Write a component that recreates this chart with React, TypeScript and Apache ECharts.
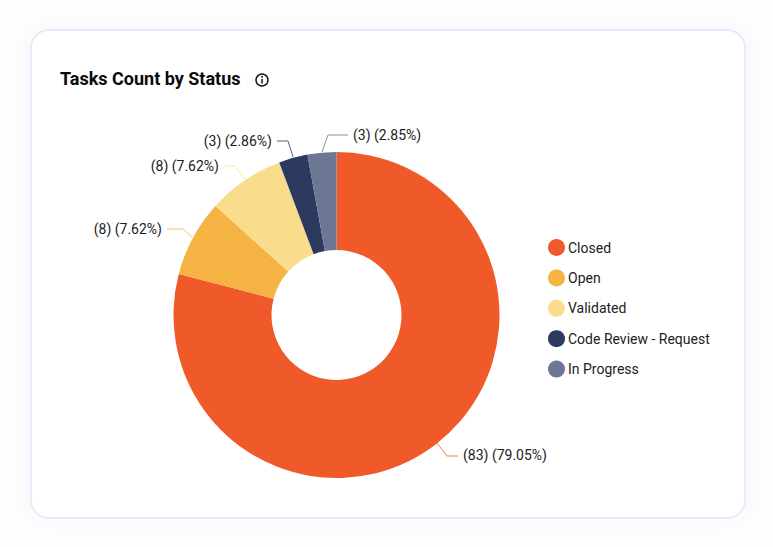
import React, { useEffect, useRef } from "react";
import * as echarts from "echarts";

const statuses = ["Closed", "Open", "Validated", "Code Review - Request", "In Progress"];
const counts = [83, 8, 8, 3, 3];
const colors = ["#F05A2A", "#F4B342", "#F9DD8C", "#2B3A5E", "#6C7793"];
const titleText = "Tasks Count by Status";

// Label anchor and leader-line placement for each slice, as in the reference.
const labelPlacement = [
  { x: 463, y: 455, align: "left", line: [[437, 443], [447, 456], [458, 456]] },
  { x: 162, y: 229, align: "right", line: [[192, 237], [183, 229], [167, 229]] },
  { x: 219, y: 166, align: "right", line: [[245, 179], [235, 166], [225, 166]] },
  { x: 272, y: 141, align: "right", line: [[293, 157], [288, 141], [277, 141]] },
  { x: 353, y: 135, align: "left", line: [[322, 152], [328, 135], [348, 135]] },
];

export default function App() {
  const ref = useRef<HTMLDivElement>(null);
  useEffect(() => {
    const chart = echarts.init(ref.current!, undefined, { renderer: "svg" });
    chart.setOption({
      animation: false,
      backgroundColor: "#FDFDFE",
      color: colors,
      title: {
        text: titleText,
        left: 60,
        top: 67,
        textStyle: { fontFamily: "Roboto", fontSize: 18, fontWeight: 700, color: "#0B0B0B", lineHeight: 22 },
        padding: 0,
      },
      legend: {
        orient: "vertical",
        left: 548,
        top: 239,
        icon: "circle",
        itemWidth: 17,
        itemHeight: 17,
        itemGap: 13.4,
        selectedMode: false,
        padding: 0,
        data: statuses,
        textStyle: { fontFamily: "Roboto", fontSize: 14, color: "#222222", padding: [0, 0, 0, -2] },
      },
      graphic: [
        {
          type: "rect",
          z: -10,
          silent: true,
          shape: { x: 31, y: 30, width: 714, height: 488, r: 18 },
          style: {
            fill: "#FFFFFF",
            stroke: "#E8EBFB",
            lineWidth: 2,
            shadowBlur: 14,
            shadowColor: "rgba(90,100,170,0.05)",
          },
        },
        {
          type: "group",
          silent: true,
          children: [
            { type: "circle", shape: { cx: 262, cy: 80, r: 6 }, style: { fill: "none", stroke: "#111111", lineWidth: 1.4 } },
            { type: "line", shape: { x1: 262, y1: 79, x2: 262, y2: 83.5 }, style: { stroke: "#111111", lineWidth: 1.5 } },
            { type: "circle", shape: { cx: 262, cy: 76.8, r: 0.9 }, style: { fill: "#111111" } },
          ],
        },
      ],
      series: [
        {
          type: "pie",
          center: [336.5, 315],
          radius: [65, 163],
          startAngle: 90,
          clockwise: true,
          percentPrecision: 2,
          avoidLabelOverlap: false,
          itemStyle: { borderWidth: 0 },
          label: {
            show: true,
            formatter: "({c}) ({d}%)",
            fontFamily: "Roboto",
            fontSize: 14,
            color: "#222222",
          },
          labelLine: { show: true, lineStyle: { width: 1, opacity: 0.8 } },
          labelLayout: (params: any) => {
            const p = labelPlacement[params.dataIndex];
            return { x: p.x, y: p.y, align: p.align, verticalAlign: "middle", labelLinePoints: p.line };
          },
          data: statuses.map((name, i) => ({ name, value: counts[i] })),
        },
      ],
    });
    return () => chart.dispose();
  }, []);
  return <div ref={ref} style={{ position: "absolute", left: 0, top: 0, width: 773, height: 547 }} />;
}
